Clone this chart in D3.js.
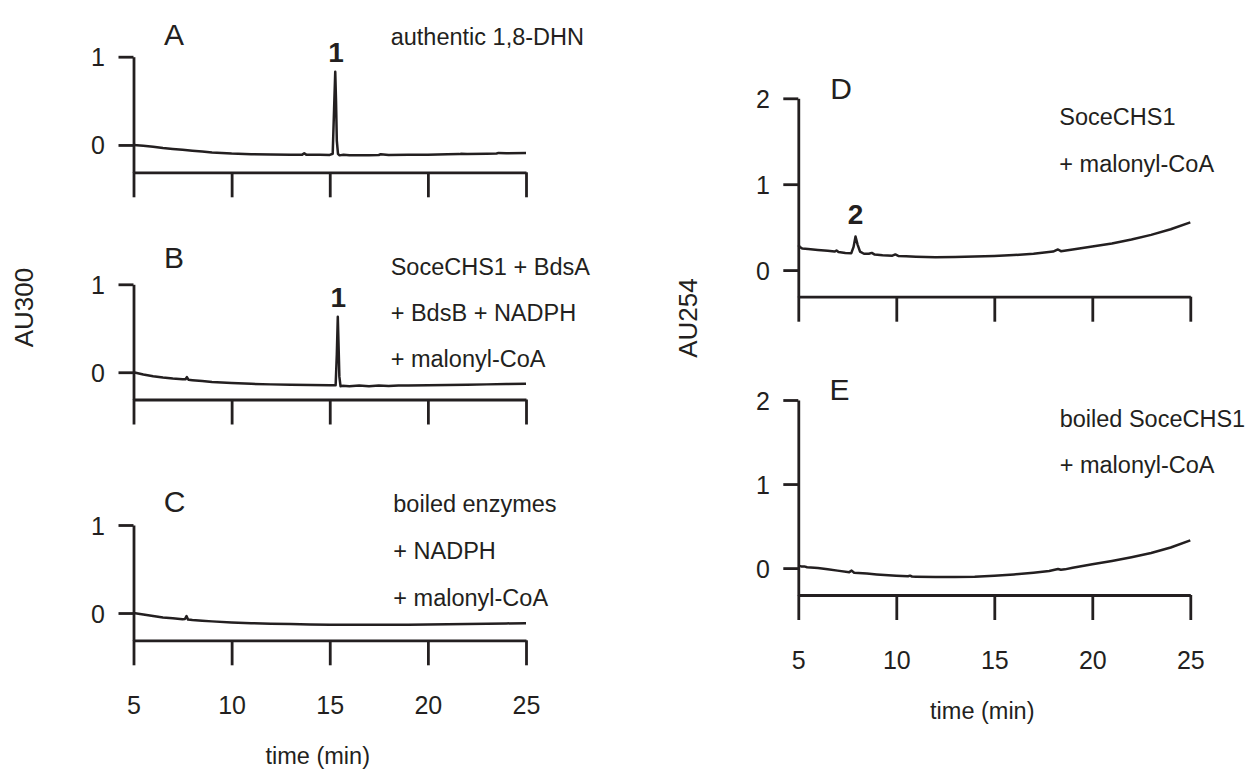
<!DOCTYPE html>
<html>
<head>
<meta charset="utf-8">
<script src="https://cdn.jsdelivr.net/npm/d3@7"></script>
<style>
  html, body { margin: 0; padding: 0; background: #fff; }
  svg { display: block; }
  text { font-family: "Liberation Sans", Arial, Helvetica, sans-serif; fill: #231f20; }
</style>
</head>
<body>
<svg id="chart" width="1259" height="776"></svg>
<script>
// HPLC traces (time in min, absorbance in AU)
const timeTicks = [5, 10, 15, 20, 25];
const au300Ticks = [0, 1];
const au254Ticks = [0, 1, 2];

const timesA = [5, 5.5, 6, 6.5, 7, 7.5, 8, 8.5, 9, 9.5, 10, 11, 12, 13, 13.6, 13.7, 13.8, 14, 14.5, 15, 15.15, 15.22, 15.28, 15.32, 15.36, 15.42, 15.5, 15.7, 16, 17, 17.5, 17.6, 18, 19, 20, 21, 21.6, 21.7, 22, 23, 23.5, 23.6, 24, 25];
const signalA = [0, -0.01, -0.02, -0.035, -0.045, -0.055, -0.065, -0.075, -0.085, -0.092, -0.098, -0.105, -0.108, -0.11, -0.11, -0.095, -0.11, -0.11, -0.112, -0.113, -0.1, 0.4, 0.83, 0.5, 0.05, -0.1, -0.118, -0.11, -0.116, -0.116, -0.114, -0.105, -0.114, -0.112, -0.11, -0.106, -0.104, -0.1, -0.102, -0.099, -0.097, -0.09, -0.095, -0.092];

const timesB = [5, 5.5, 6, 6.5, 7, 7.5, 7.65, 7.72, 7.8, 8, 8.5, 9, 10, 11, 12, 13, 14, 15, 15.3, 15.36, 15.41, 15.45, 15.49, 15.55, 15.65, 16, 16.5, 17, 17.5, 18, 18.5, 19, 20, 21, 22, 23, 24, 25];
const signalB = [0, -0.025, -0.045, -0.06, -0.072, -0.08, -0.08, -0.055, -0.085, -0.09, -0.1, -0.11, -0.122, -0.132, -0.138, -0.143, -0.146, -0.148, -0.148, 0.2, 0.63, 0.3, -0.05, -0.16, -0.155, -0.158, -0.15, -0.16, -0.152, -0.156, -0.15, -0.152, -0.148, -0.145, -0.142, -0.138, -0.134, -0.13];

const timesC = [5, 5.5, 6, 6.5, 7, 7.5, 7.62, 7.7, 7.78, 8, 8.5, 9, 10, 11, 12, 13, 14, 15, 16, 17, 18, 19, 20, 21, 22, 23, 24, 25];
const signalC = [0, -0.018, -0.035, -0.05, -0.06, -0.07, -0.068, -0.035, -0.075, -0.08, -0.088, -0.095, -0.107, -0.116, -0.122, -0.126, -0.13, -0.132, -0.132, -0.132, -0.132, -0.132, -0.131, -0.128, -0.125, -0.121, -0.118, -0.115];

const timesD = [5, 5.08, 5.2, 5.5, 6, 6.5, 6.85, 6.95, 7.05, 7.4, 7.7, 7.82, 7.92, 8.02, 8.15, 8.35, 8.6, 8.75, 8.9, 9.3, 9.8, 9.95, 10.1, 10.5, 11, 12, 13, 14, 15, 16, 17, 18, 18.25, 18.4, 19, 20, 21, 22, 23, 24, 25];
const signalD = [0.29, 0.27, 0.25, 0.245, 0.235, 0.225, 0.215, 0.228, 0.21, 0.2, 0.195, 0.27, 0.39, 0.3, 0.215, 0.19, 0.19, 0.2, 0.18, 0.172, 0.168, 0.182, 0.165, 0.16, 0.155, 0.15, 0.152, 0.158, 0.165, 0.175, 0.19, 0.215, 0.24, 0.22, 0.24, 0.275, 0.31, 0.355, 0.41, 0.475, 0.555];

const timesE = [5, 5.15, 5.3, 5.45, 6, 6.5, 7, 7.6, 7.72, 7.85, 8.5, 9, 10, 10.6, 10.7, 10.8, 11, 12, 13, 14, 15, 16, 17, 17.8, 18.25, 18.4, 18.6, 19, 20, 21, 22, 23, 24, 25];
const signalE = [0.03, 0.02, 0.02, 0.01, 0.0, -0.015, -0.03, -0.048, -0.03, -0.055, -0.065, -0.075, -0.09, -0.097, -0.09, -0.1, -0.102, -0.107, -0.107, -0.103, -0.09, -0.075, -0.055, -0.035, -0.01, -0.02, -0.015, 0.005, 0.045, 0.085, 0.13, 0.18, 0.245, 0.33];

// Peak annotations: compound number and retention time
const peakA = { label: "1", time: 15.32, value: 0.83 };
const peakB = { label: "1", time: 15.44, value: 0.63 };
const peakD = { label: "2", time: 7.92, value: 0.39 };

const conditionsA = ["authentic 1,8-DHN"];
const conditionsB = ["SoceCHS1 + BdsA", "+ BdsB + NADPH", "+ malonyl-CoA"];
const conditionsC = ["boiled enzymes", "+ NADPH", "+ malonyl-CoA"];
const conditionsD = ["SoceCHS1", "+ malonyl-CoA"];
const conditionsE = ["boiled SoceCHS1", "+ malonyl-CoA"];

const ink = "#231f20";
const svg = d3.select("#chart");

// Panel layout
const leftCol = { x0: 133.5, x1: 526, yMax: 1 };
const rightCol = { x0: 798.3, x1: 1190.3, yMax: 2 };

const panels = [
  { id: "A", col: leftCol, top: 56.7, bottom: 172.3, yMin: -0.31, ticks: au300Ticks,
    t: timesA, v: signalA, peak: peakA, peakDy: -10, notes: conditionsA,
    letterX: 174, letterY: 45, noteX: 390.7, noteY: 45, noteStep: 0, xLabels: false },
  { id: "B", col: leftCol, top: 284.3, bottom: 399.5, yMin: -0.31, ticks: au300Ticks,
    t: timesB, v: signalB, peak: peakB, peakDy: -10, notes: conditionsB,
    letterX: 174, letterY: 268.3, noteX: 390.7, noteY: 275, noteStep: 46, xLabels: false },
  { id: "C", col: leftCol, top: 525, bottom: 640.3, yMin: -0.31, ticks: au300Ticks,
    t: timesC, v: signalC, peak: null, notes: conditionsC,
    letterX: 174.5, letterY: 511.7, noteX: 393.3, noteY: 511.7, noteStep: 47.2, xLabels: true, titleY: 764 },
  { id: "D", col: rightCol, top: 98.3, bottom: 296.7, yMin: -0.31, ticks: au254Ticks,
    t: timesD, v: signalD, peak: peakD, peakDy: -13, notes: conditionsD,
    letterX: 841, letterY: 99.3, noteX: 1059.3, noteY: 125, noteStep: 46.7, xLabels: false },
  { id: "E", col: rightCol, top: 400, bottom: 595, yMin: -0.32, ticks: au254Ticks,
    t: timesE, v: signalE, peak: null, notes: conditionsE,
    letterX: 839.5, letterY: 400, noteX: 1059.7, noteY: 426.7, noteStep: 46.7, xLabels: true, titleY: 719 }
];

panels.forEach(p => {
  const x = d3.scaleLinear().domain([5, 25]).range([p.col.x0, p.col.x1]);
  const y = d3.scaleLinear().domain([p.yMin, p.col.yMax]).range([p.bottom, p.top]);
  const g = svg.append("g").attr("class", "panel-" + p.id);

  // time axis
  const xAxis = d3.axisBottom(x)
    .tickValues(timeTicks)
    .tickSize(25)
    .tickSizeOuter(0)
    .tickPadding(31)
    .tickFormat(p.xLabels ? d3.format("d") : () => "");
  const gx = g.append("g").attr("transform", `translate(0,${p.bottom})`).call(xAxis);

  // absorbance axis
  const yAxis = d3.axisLeft(y)
    .tickValues(p.ticks)
    .tickSize(15)
    .tickSizeOuter(0)
    .tickPadding(13.5)
    .tickFormat(d3.format("d"));
  const gy = g.append("g").attr("transform", `translate(${p.col.x0},0)`).call(yAxis);

  [gx, gy].forEach(a => {
    a.selectAll("path.domain").attr("stroke", ink).attr("stroke-width", 2.8);
    a.selectAll(".tick line").attr("stroke", ink).attr("stroke-width", 2.8);
    a.selectAll(".tick text")
      .attr("fill", ink)
      .style("font-size", "25px")
      .style("font-family", "'Liberation Sans', Arial, sans-serif");
  });
  gy.selectAll(".tick text").attr("dy", "0.36em");

  // chromatogram trace
  const pts = p.t.map((t, i) => [t, p.v[i]]);
  const line = d3.line().x(d => x(d[0])).y(d => y(d[1])).curve(d3.curveLinear);
  g.append("path")
    .datum(pts)
    .attr("d", line)
    .attr("fill", "none")
    .attr("stroke", ink)
    .attr("stroke-width", 2.5)
    .attr("stroke-linejoin", "round");

  // panel letter
  g.append("text")
    .attr("x", p.letterX)
    .attr("y", p.letterY)
    .attr("text-anchor", "middle")
    .style("font-size", "30px")
    .text(p.id);

  // reaction conditions
  p.notes.forEach((s, i) => {
    g.append("text")
      .attr("x", p.noteX)
      .attr("y", p.noteY + i * p.noteStep)
      .style("font-size", "23.5px")
      .text(s);
  });

  // peak number
  if (p.peak) {
    g.append("text")
      .attr("x", x(p.peak.time))
      .attr("y", y(p.peak.value) + p.peakDy)
      .attr("text-anchor", "middle")
      .style("font-size", "28px")
      .style("font-weight", "bold")
      .text(p.peak.label);
  }

  // time axis title
  if (p.xLabels) {
    g.append("text")
      .attr("x", (p.col.x0 + p.col.x1) / 2 - 12)
      .attr("y", p.titleY)
      .attr("text-anchor", "middle")
      .style("font-size", "23.5px")
      .text("time (min)");
  }
});

// absorbance titles
svg.append("text")
  .attr("transform", "translate(33,307.5) rotate(-90)")
  .attr("text-anchor", "middle")
  .style("font-size", "26px")
  .text("AU300");
svg.append("text")
  .attr("transform", "translate(696.7,318) rotate(-90)")
  .attr("text-anchor", "middle")
  .style("font-size", "26px")
  .text("AU254");
</script>
</body>
</html>
